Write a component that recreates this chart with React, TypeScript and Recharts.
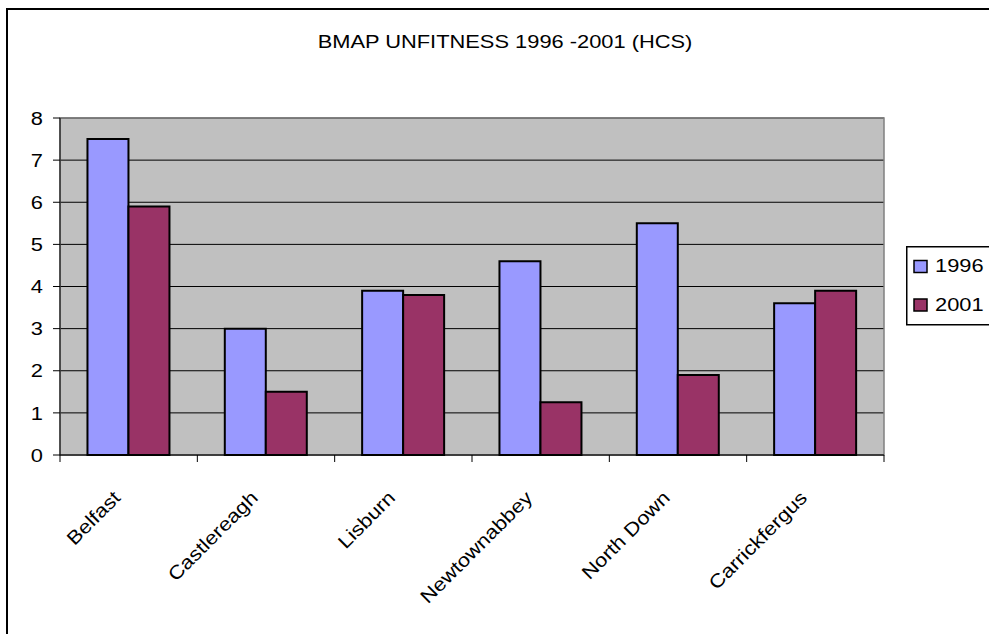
import { Bar, BarChart, CartesianGrid, Legend, ReferenceArea, XAxis, YAxis } from "recharts"

const districts = ["Belfast", "Castlereagh", "Lisburn", "Newtownabbey", "North Down", "Carrickfergus"]
const unfit1996 = [7.5, 3.0, 3.9, 4.6, 5.5, 3.6]
const unfit2001 = [5.9, 1.5, 3.8, 1.25, 1.9, 3.9]
const yTicks = [0, 1, 2, 3, 4, 5, 6, 7, 8]

const data = districts.map((name, i) => ({ name, y1996: unfit1996[i], y2001: unfit2001[i] }))

const W = 989
const H = 634
const PLOT_LEFT = 60
const PLOT_RIGHT = 884
const PLOT_TOP = 118
const PLOT_BOTTOM = 455
const BAND = (PLOT_RIGHT - PLOT_LEFT) / districts.length

const FONT = "Arial, 'Liberation Sans', sans-serif"
const FS = 19
// glyphs in this chart run a little wide, so text gets a stretch along its baseline
const STRETCH = 1.15

function DistrictTick({ x, y, payload, index }: any) {
  const half = BAND / 2
  return (
    <g>
      <line x1={x - half} x2={x - half} y1={y} y2={y + 7} stroke="#000" />
      {index === districts.length - 1 && <line x1={x + half} x2={x + half} y1={y} y2={y + 7} stroke="#000" />}
      <text
        transform={`translate(${x - 7},${y + 44}) rotate(-45) scale(${STRETCH},1)`}
        textAnchor="end"
        fontFamily={FONT}
        fontSize={FS}
        fill="#000"
      >
        {payload.value}
      </text>
    </g>
  )
}

function ValueTick({ x, y, payload }: any) {
  return (
    <text
      transform={`translate(${x},${y}) scale(${STRETCH},1)`}
      textAnchor="end"
      dy="0.35em"
      fontFamily={FONT}
      fontSize={FS}
      fill="#000"
    >
      {payload.value}
    </text>
  )
}

function LegendBox({ payload }: any) {
  return (
    <svg width={83} height={80} style={{ display: "block", overflow: "visible" }}>
      <rect x={0.75} y={0.75} width={110} height={78} fill="#fff" stroke="#000" strokeWidth={1.5} />
      {(payload || []).map((p: any, i: number) => (
        <g key={p.value}>
          <rect x={8} y={14.5 + i * 38.5} width={13} height={12} fill={p.color} stroke="#000" strokeWidth={1.5} />
          <text
            transform={`translate(29,${26 + i * 39}) scale(${STRETCH},1)`}
            fontFamily={FONT}
            fontSize={FS}
            fill="#000"
          >
            {p.value}
          </text>
        </g>
      ))}
    </svg>
  )
}

export default function App() {
  return (
    <div style={{ position: "absolute", left: 0, top: 0, width: W, height: H, overflow: "hidden", background: "#fff" }}>
      <BarChart
        width={W}
        height={H}
        data={data}
        margin={{ top: PLOT_TOP, right: W - PLOT_RIGHT, bottom: 0, left: 0 }}
        barCategoryGap="20%"
        barGap={0}
      >
        <CartesianGrid vertical={false} stroke="#000" fill="#C0C0C0" fillOpacity={1} />
        <ReferenceArea y1={0} y2={8} fill="none" stroke="#808080" strokeWidth={1.5} />
        <XAxis
          dataKey="name"
          height={H - PLOT_BOTTOM}
          interval={0}
          tickLine={false}
          tickSize={0}
          tickMargin={0}
          axisLine={{ stroke: "#000" }}
          tick={<DistrictTick />}
        />
        <YAxis
          width={PLOT_LEFT}
          domain={[0, 8]}
          ticks={yTicks}
          interval={0}
          tickSize={7}
          tickMargin={10}
          axisLine={{ stroke: "#000" }}
          tickLine={{ stroke: "#000" }}
          tick={<ValueTick />}
        />
        <Legend
          layout="vertical"
          align="center"
          verticalAlign="middle"
          content={<LegendBox />}
          wrapperStyle={{ left: 906, top: 246, width: 83 }}
        />
        <Bar dataKey="y1996" name="1996" fill="#9999FF" stroke="#000" strokeWidth={2} isAnimationActive={false} />
        <Bar dataKey="y2001" name="2001" fill="#993366" stroke="#000" strokeWidth={2} isAnimationActive={false} />
      </BarChart>
      <svg width={W} height={H} style={{ position: "absolute", left: 0, top: 0, pointerEvents: "none" }}>
        <line x1={7} x2={7} y1={8} y2={H} stroke="#000" strokeWidth={2} />
        <line x1={6} x2={W} y1={9} y2={9} stroke="#000" strokeWidth={2} />
        <text
          transform={`translate(505,48) scale(${STRETCH},1)`}
          textAnchor="middle"
          fontFamily={FONT}
          fontSize={FS}
          fill="#000"
        >
          BMAP UNFITNESS 1996 -2001 (HCS)
        </text>
      </svg>
    </div>
  )
}
